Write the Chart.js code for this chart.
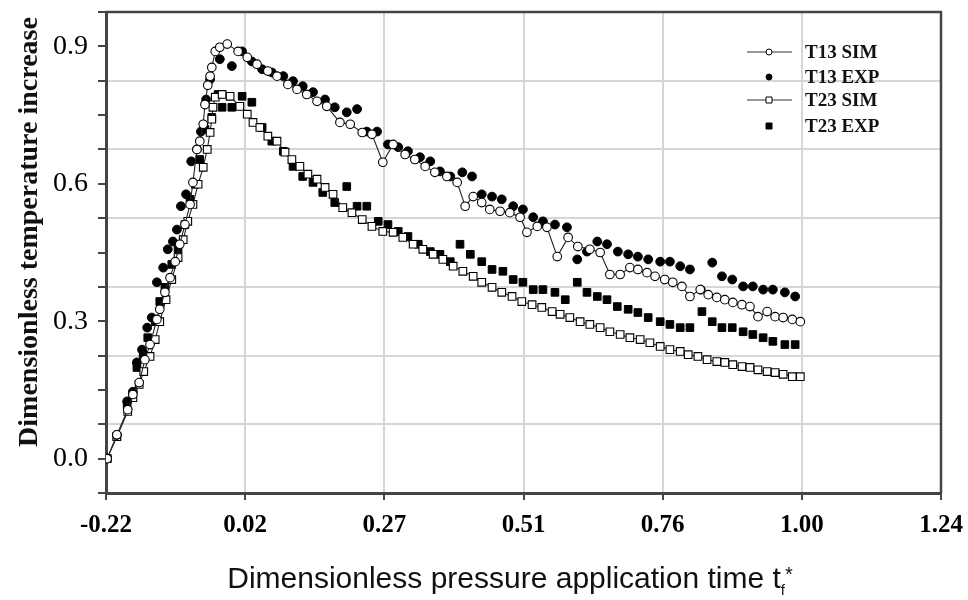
<!DOCTYPE html>
<html>
<head>
<meta charset="utf-8">
<script src="https://cdn.jsdelivr.net/npm/chart.js@4.4.1/dist/chart.umd.min.js"></script>
<style>
html, body { margin: 0; padding: 0; background: #fff; }
</style>
</head>
<body>
<canvas id="tempChart" width="968" height="600"></canvas>
<script>
// axis ticks
var xTickValues = [-0.22, 0.0233, 0.2667, 0.51, 0.7533, 0.9967, 1.24];
var xTickLabels = ['-0.22', '0.02', '0.27', '0.51', '0.76', '1.00', '1.24'];
var yTickValues = [-0.075, 0, 0.075, 0.15, 0.225, 0.3, 0.375, 0.45, 0.525, 0.6, 0.675, 0.75, 0.825, 0.9, 0.975];
var yTickLabels = ['', '0.0', '', '', '', '0.3', '', '', '', '0.6', '', '', '', '0.9', ''];

// T13 SIM
var t13SimX = [-0.218, -0.201, -0.182, -0.173, -0.162, -0.152, -0.143, -0.131, -0.126, -0.117,
  -0.108, -0.099, -0.091, -0.082, -0.073, -0.068, -0.061, -0.056, -0.050, -0.047,
  -0.042, -0.038, -0.035, -0.029, -0.021, -0.008,
  0.011, 0.027, 0.044, 0.063, 0.079, 0.098, 0.114, 0.131, 0.149, 0.166,
  0.189, 0.207, 0.228, 0.245, 0.264, 0.282, 0.303, 0.320, 0.338, 0.355,
  0.376, 0.394, 0.408, 0.422, 0.437, 0.451, 0.469, 0.486, 0.504, 0.516,
  0.534, 0.551, 0.569, 0.588, 0.605, 0.626, 0.644, 0.661, 0.679, 0.696,
  0.710, 0.726, 0.740, 0.757, 0.771, 0.787, 0.801, 0.819, 0.833, 0.848,
  0.862, 0.876, 0.892, 0.906, 0.920, 0.936, 0.950, 0.964, 0.980, 0.994];
var t13SimY = [0, 0.052, 0.107, 0.140, 0.166, 0.216, 0.249, 0.304, 0.326, 0.363,
  0.395, 0.430, 0.468, 0.511, 0.555, 0.603, 0.675, 0.693, 0.730, 0.773,
  0.815, 0.835, 0.854, 0.889, 0.898, 0.905,
  0.889, 0.876, 0.861, 0.846, 0.835, 0.817, 0.806, 0.795, 0.780, 0.769,
  0.734, 0.730, 0.712, 0.708, 0.647, 0.686, 0.664, 0.653, 0.638, 0.625,
  0.616, 0.603, 0.551, 0.572, 0.559, 0.544, 0.540, 0.537, 0.527, 0.494,
  0.507, 0.505, 0.441, 0.483, 0.463, 0.457, 0.450, 0.402, 0.402, 0.417,
  0.413, 0.406, 0.398, 0.391, 0.385, 0.376, 0.354, 0.369, 0.358, 0.352,
  0.347, 0.341, 0.336, 0.332, 0.310, 0.321, 0.310, 0.308, 0.304, 0.299];

// T13 EXP
var t13ExpX = [-0.218, -0.201, -0.183, -0.173, -0.166, -0.157, -0.148, -0.140, -0.131, -0.120,
  -0.112, -0.103, -0.096, -0.089, -0.080, -0.071, -0.061, -0.054, -0.045, -0.038,
  -0.021, -0.000, 0.018, 0.035, 0.053, 0.070, 0.090, 0.107, 0.124, 0.142,
  0.163, 0.180, 0.201, 0.219, 0.236, 0.254, 0.273, 0.291, 0.308, 0.329,
  0.347, 0.364, 0.382, 0.403, 0.420, 0.437, 0.455, 0.472, 0.492, 0.509,
  0.527, 0.544, 0.565, 0.586, 0.604, 0.621, 0.639, 0.656, 0.675, 0.693,
  0.710, 0.728, 0.749, 0.766, 0.784, 0.801, 0.820, 0.840, 0.857, 0.875,
  0.894, 0.911, 0.929, 0.946, 0.967, 0.985];
var t13ExpY = [0, 0.052, 0.125, 0.146, 0.210, 0.238, 0.286, 0.308, 0.385, 0.417,
  0.457, 0.474, 0.500, 0.551, 0.577, 0.649, 0.675, 0.714, 0.784, 0.828,
  0.872, 0.857, 0.889, 0.867, 0.850, 0.843, 0.835, 0.824, 0.813, 0.800,
  0.784, 0.767, 0.756, 0.763, 0.714, 0.714, 0.686, 0.680, 0.671, 0.658,
  0.649, 0.627, 0.616, 0.625, 0.616, 0.577, 0.572, 0.566, 0.551, 0.544,
  0.527, 0.518, 0.511, 0.505, 0.435, 0.452, 0.474, 0.468, 0.452, 0.446,
  0.441, 0.435, 0.430, 0.430, 0.420, 0.413, 0.369, 0.428, 0.398, 0.391,
  0.376, 0.376, 0.369, 0.369, 0.363, 0.354];

// T23 SIM
var t23SimX = [-0.218, -0.201, -0.182, -0.173, -0.162, -0.154, -0.143, -0.134, -0.126, -0.115,
  -0.105, -0.094, -0.085, -0.077, -0.068, -0.059, -0.050, -0.043, -0.038, -0.035,
  -0.033, -0.029, -0.017, -0.003,
  0.014, 0.027, 0.037, 0.049, 0.063, 0.079, 0.093, 0.105, 0.119, 0.133,
  0.149, 0.163, 0.177, 0.194, 0.210, 0.228, 0.245, 0.264, 0.282, 0.299,
  0.317, 0.334, 0.352, 0.369, 0.387, 0.404, 0.422, 0.437, 0.455, 0.472,
  0.490, 0.507, 0.525, 0.542, 0.560, 0.574, 0.591, 0.609, 0.626, 0.644,
  0.661, 0.679, 0.696, 0.714, 0.731, 0.749, 0.766, 0.784, 0.798, 0.815,
  0.831, 0.848, 0.862, 0.876, 0.892, 0.906, 0.920, 0.936, 0.950, 0.964,
  0.980, 0.994];
var t23SimY = [0, 0.048, 0.103, 0.133, 0.162, 0.190, 0.223, 0.260, 0.299, 0.347,
  0.391, 0.439, 0.478, 0.518, 0.555, 0.599, 0.636, 0.675, 0.712, 0.741,
  0.767, 0.789, 0.795, 0.791,
  0.769, 0.752, 0.734, 0.723, 0.704, 0.693, 0.669, 0.653, 0.638, 0.621,
  0.610, 0.592, 0.577, 0.548, 0.537, 0.522, 0.507, 0.496, 0.494, 0.483,
  0.468, 0.457, 0.446, 0.435, 0.420, 0.409, 0.398, 0.385, 0.374, 0.363,
  0.354, 0.343, 0.336, 0.330, 0.321, 0.315, 0.308, 0.299, 0.293, 0.286,
  0.277, 0.271, 0.264, 0.260, 0.253, 0.245, 0.238, 0.234, 0.227, 0.223,
  0.216, 0.212, 0.210, 0.205, 0.201, 0.199, 0.194, 0.190, 0.188, 0.184,
  0.179, 0.179];

// T23 EXP
var t23ExpX = [-0.218, -0.201, -0.183, -0.166, -0.155, -0.147, -0.134, -0.126, -0.117, -0.105,
  -0.094, -0.082, -0.073, -0.064, -0.056, -0.047, -0.035, -0.024, -0.017, -0.000,
  0.018, 0.035, 0.053, 0.070, 0.090, 0.107, 0.124, 0.142, 0.159, 0.180,
  0.201, 0.219, 0.236, 0.256, 0.273, 0.291, 0.308, 0.326, 0.347, 0.364,
  0.382, 0.399, 0.417, 0.437, 0.455, 0.474, 0.492, 0.509, 0.527, 0.544,
  0.565, 0.583, 0.604, 0.621, 0.639, 0.656, 0.674, 0.693, 0.710, 0.728,
  0.749, 0.766, 0.784, 0.801, 0.822, 0.840, 0.857, 0.875, 0.894, 0.911,
  0.929, 0.946, 0.967, 0.985];
var t23ExpY = [0, 0.048, 0.118, 0.199, 0.227, 0.264, 0.299, 0.343, 0.374, 0.424,
  0.457, 0.511, 0.566, 0.599, 0.653, 0.719, 0.745, 0.795, 0.767, 0.767,
  0.791, 0.778, 0.723, 0.693, 0.671, 0.638, 0.616, 0.603, 0.581, 0.559,
  0.594, 0.551, 0.551, 0.518, 0.511, 0.496, 0.485, 0.468, 0.452, 0.446,
  0.430, 0.468, 0.446, 0.430, 0.413, 0.409, 0.391, 0.385, 0.369, 0.369,
  0.363, 0.347, 0.385, 0.363, 0.354, 0.347, 0.332, 0.326, 0.319, 0.308,
  0.299, 0.293, 0.286, 0.286, 0.321, 0.299, 0.286, 0.286, 0.277, 0.271,
  0.264, 0.256, 0.249, 0.249];

function toPoints(xs, ys) {
  return xs.map(function (x, i) { return { x: x, y: ys[i] }; });
}

// legend rows and titles drawn by hand so they sit where the original has them
var legendRowsY = [52, 77, 100, 126];

const framePlugin = {
  id: 'frame',
  beforeDatasetsDraw(chart) {
    const ctx = chart.ctx;
    const a = chart.chartArea;
    ctx.save();
    ctx.strokeStyle = '#444';
    ctx.lineWidth = 2.5;
    ctx.beginPath();
    ctx.moveTo(a.left, a.top);
    ctx.lineTo(a.right, a.top);
    ctx.lineTo(a.right, a.bottom);
    ctx.stroke();
    ctx.restore();
  }
};

function drawMarker(ctx, ds, x, y, r) {
  ctx.beginPath();
  if (ds.pointStyle === 'rect') {
    ctx.rect(x - r, y - r, 2 * r, 2 * r);
  } else {
    ctx.arc(x, y, r, 0, Math.PI * 2);
  }
  ctx.fillStyle = ds.pointBackgroundColor;
  ctx.fill();
  ctx.lineWidth = 1;
  ctx.strokeStyle = '#000';
  ctx.stroke();
}

const legendPlugin = {
  id: 'boxLegend',
  afterDraw(chart) {
    const ctx = chart.ctx;
    ctx.save();
    chart.data.datasets.forEach(function (ds, i) {
      const y = legendRowsY[i];
      if (ds.showLine) {
        ctx.beginPath();
        ctx.moveTo(747, y);
        ctx.lineTo(792, y);
        ctx.lineWidth = 1.2;
        ctx.strokeStyle = '#333';
        ctx.stroke();
      }
      drawMarker(ctx, ds, 769, y, 3);
      ctx.fillStyle = '#111';
      ctx.font = 'bold 19px "Liberation Serif"';
      ctx.textBaseline = 'middle';
      ctx.textAlign = 'left';
      ctx.fillText(ds.label, 805, y + 1);
    });
    ctx.restore();
  }
};

const titlePlugin = {
  id: 'axisTitles',
  afterDraw(chart) {
    const ctx = chart.ctx;
    ctx.save();
    // y title
    ctx.translate(30, 232);
    ctx.rotate(-Math.PI / 2);
    ctx.font = 'bold 28px "Liberation Serif"';
    ctx.fillStyle = '#111';
    ctx.textAlign = 'center';
    ctx.textBaseline = 'middle';
    ctx.fillText('Dimensionless temperature increase', 0, 0);
    ctx.restore();

    // x title with subscript f
    ctx.save();
    const main = 'Dimensionless pressure application time t';
    ctx.font = '30px "Liberation Sans"';
    const w1 = ctx.measureText(main).width;
    ctx.font = '15px "Liberation Sans"';
    const w2 = ctx.measureText('f').width;
    ctx.font = '20px "Liberation Sans"';
    const w3 = ctx.measureText('*').width;
    let x = 510 - (w1 + w2 + w3) / 2;
    ctx.fillStyle = '#111';
    ctx.textBaseline = 'alphabetic';
    ctx.font = '30px "Liberation Sans"';
    ctx.fillText(main, x, 588);
    x += w1;
    ctx.font = '15px "Liberation Sans"';
    ctx.fillText('f', x, 595);
    x += w2;
    ctx.font = '20px "Liberation Sans"';
    ctx.fillText('*', x, 581);
    ctx.restore();
  }
};

const tempCtx = document.getElementById('tempChart').getContext('2d');
const tempChart = new Chart(tempCtx, {
  type: 'scatter',
  data: {
    datasets: [{
      label: 'T13 SIM',
      data: toPoints(t13SimX, t13SimY),
      showLine: true,
      borderColor: '#222',
      borderWidth: 1.1,
      pointStyle: 'circle',
      pointRadius: 4.3,
      pointBorderWidth: 1.1,
      pointBorderColor: '#000',
      pointBackgroundColor: '#fff'
    }, {
      label: 'T13 EXP',
      data: toPoints(t13ExpX, t13ExpY),
      showLine: false,
      pointStyle: 'circle',
      pointRadius: 4.4,
      pointBorderWidth: 1,
      pointBorderColor: '#000',
      pointBackgroundColor: '#000'
    }, {
      label: 'T23 SIM',
      data: toPoints(t23SimX, t23SimY),
      showLine: true,
      borderColor: '#222',
      borderWidth: 1.1,
      pointStyle: 'rect',
      pointRadius: 5.4,
      pointBorderWidth: 1.1,
      pointBorderColor: '#000',
      pointBackgroundColor: '#fff'
    }, {
      label: 'T23 EXP',
      data: toPoints(t23ExpX, t23ExpY),
      showLine: false,
      pointStyle: 'rect',
      pointRadius: 5.4,
      pointBorderWidth: 1,
      pointBorderColor: '#000',
      pointBackgroundColor: '#000'
    }]
  },
  options: {
    responsive: false,
    animation: false,
    devicePixelRatio: 1,
    layout: { padding: { top: 12, right: 27, left: 0, bottom: 0 } },
    plugins: {
      legend: { display: false },
      tooltip: { enabled: false }
    },
    scales: {
      x: {
        type: 'linear',
        min: -0.22,
        max: 1.24,
        afterBuildTicks: function (s) {
          s.ticks = xTickValues.map(function (v) { return { value: v }; });
        },
        afterFit: function (s) {
          s.height = 107;
          s.paddingLeft = 0;
          s.paddingRight = 0;
        },
        ticks: {
          callback: function (v, i) { return xTickLabels[i]; },
          font: { family: 'Liberation Serif', size: 25, weight: 'bold' },
          color: '#000',
          padding: 11,
          maxRotation: 0,
          autoSkip: false
        },
        grid: {
          color: function (c) {
            return (c.index > 0 && c.index < xTickValues.length - 1) ? '#d6d6d6' : 'rgba(0,0,0,0)';
          },
          lineWidth: 2,
          tickLength: 7,
          tickColor: '#444',
          tickWidth: 2
        },
        border: { color: '#444', width: 3 }
      },
      y: {
        type: 'linear',
        min: -0.075,
        max: 0.975,
        afterBuildTicks: function (s) {
          s.ticks = yTickValues.map(function (v) { return { value: v }; });
        },
        afterFit: function (s) {
          s.width = 106;
          s.paddingTop = 0;
          s.paddingBottom = 0;
        },
        ticks: {
          callback: function (v, i) { return yTickLabels[i]; },
          font: { family: 'Liberation Serif', size: 28 },
          color: '#000',
          padding: 10,
          autoSkip: false
        },
        grid: {
          color: function (c) {
            const k = Math.round(c.tick.value / 0.075);
            return (k > 0 && k < 13 && k % 2 === 1) ? '#d6d6d6' : 'rgba(0,0,0,0)';
          },
          lineWidth: 2,
          tickLength: 8,
          tickColor: '#444',
          tickWidth: 2
        },
        border: { color: '#444', width: 3 }
      }
    }
  },
  plugins: [framePlugin, legendPlugin, titlePlugin]
});
</script>
</body>
</html>
